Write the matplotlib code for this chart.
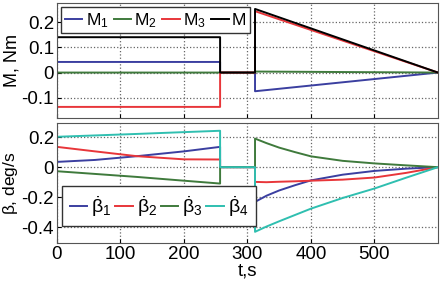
import numpy as np
import matplotlib.pyplot as plt

plt.rcParams['font.family'] = ['Liberation Sans', 'DejaVu Sans']
plt.rcParams['mathtext.fontset'] = 'custom'
plt.rcParams['mathtext.rm'] = 'Liberation Sans'
plt.rcParams['mathtext.it'] = 'Liberation Sans'

# switching times
t_off = 257
t_on = 312

# moments, top panel
t_m = [0, t_off, t_off, t_on, t_on, 600]
M1 = [0.042, 0.042, 0, 0, -0.074, 0]
M2 = [0.0, 0.0, 0, 0, 0.004, 0]
M3 = [-0.136, -0.136, 0, 0, 0.243, 0]
M = [0.14, 0.14, 0, 0, 0.252, 0]

# angular rates, bottom panel
t_b = [0, 60, 126, 200, t_off, t_off, t_on, t_on, 330, 350, 375, 400, 450, 500, 550, 600]
b1 = [0.035, 0.048, 0.073, 0.105, 0.135, 0, 0, -0.231, -0.19, -0.155, -0.12, -0.088, -0.05, -0.025, -0.01, 0]
b2 = [0.135, 0.105, 0.073, 0.052, 0.051, 0, 0, -0.098, -0.1, -0.097, -0.094, -0.09, -0.083, -0.069, -0.038, 0]
b3 = [-0.027, -0.045, -0.065, -0.09, -0.109, 0, 0, 0.19, 0.16, 0.13, 0.1, 0.072, 0.042, 0.025, 0.012, 0]
b4 = [0.202, 0.211, 0.221, 0.233, 0.242, 0, 0, -0.43, -0.395, -0.36, -0.318, -0.276, -0.205, -0.142, -0.07, 0]

blue = '#3b3fa0'
green = '#3f7a3c'
red = '#e8363a'
cyan = '#2fbfb0'

fig = plt.figure(figsize=(4.41, 2.83), dpi=100)
ax1 = fig.add_axes([0.129, 0.583, 0.864, 0.406])
ax2 = fig.add_axes([0.129, 0.141, 0.864, 0.424])

lw = 1.4
ax1.plot(t_m, M1, color=blue, lw=lw, label='M$_1$')
ax1.plot(t_m, M2, color=green, lw=lw, label='M$_2$')
ax1.plot(t_m, M3, color=red, lw=lw, label='M$_3$')
ax1.plot(t_m, M, color='black', lw=lw, label='M')

ax2.plot(t_b, b1, color=blue, lw=lw, label=r'$\dot{\beta}_1$')
ax2.plot(t_b, b2, color=red, lw=lw, label=r'$\dot{\beta}_2$')
ax2.plot(t_b, b3, color=green, lw=lw, label=r'$\dot{\beta}_3$')
ax2.plot(t_b, b4, color=cyan, lw=lw, label=r'$\dot{\beta}_4$')

for ax in (ax1, ax2):
    ax.set_xlim(0, 600)
    ax.set_xticks([0, 100, 200, 300, 400, 500])
    ax.grid(True, linestyle=':', color='#666666', lw=0.9)
    ax.tick_params(direction='in', labelsize=13.5, length=3, pad=2)
    for s in ax.spines.values():
        s.set_color('#555555')

ax1.set_ylim(-0.18, 0.275)
ax1.set_yticks([-0.1, 0, 0.1, 0.2])
ax1.set_yticklabels(['-0.1', '0', '0.1', '0.2'])
ax1.set_xticklabels([])
ax1.set_ylabel('M, Nm', fontsize=13, labelpad=1)

ax2.set_ylim(-0.505, 0.293)
ax2.set_yticks([-0.4, -0.2, 0, 0.2])
ax2.set_yticklabels(['-0.4', '-0.2', '0', '0.2'])
ax2.set_ylabel(r'$\dot{\beta}$, deg/s', fontsize=12.5, labelpad=0)
ax2.set_xlabel('t,s', fontsize=13.5, labelpad=0)

leg1 = ax1.legend(loc='upper left', ncol=4, fontsize=12.5, handlelength=1.0,
                  handletextpad=0.2, columnspacing=0.3, borderpad=0.2,
                  borderaxespad=0.25, fancybox=False, framealpha=1)
leg1.get_frame().set_edgecolor('#333333')
leg2 = ax2.legend(loc='lower left', ncol=4, fontsize=14, handlelength=0.9,
                  handletextpad=0.2, columnspacing=0.2, borderpad=0.4,
                  borderaxespad=0, bbox_to_anchor=(0.013, 0.14), fancybox=False, framealpha=1)
leg2.get_frame().set_edgecolor('#333333')

fig.savefig('out.png', dpi=100)
